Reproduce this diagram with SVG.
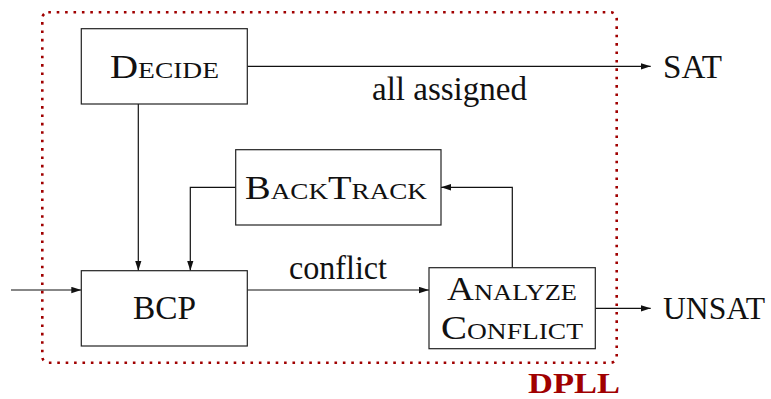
<svg xmlns="http://www.w3.org/2000/svg" width="771" height="399" viewBox="0 0 771 399">
  <defs>
    <marker id="arrow" markerUnits="userSpaceOnUse" markerWidth="11" markerHeight="8" refX="10" refY="3.2" orient="auto">
      <path d="M0,0 L10,3.2 L0,6.4 Z" fill="#111"/>
    </marker>
    <style>
      .box { fill: #fff; stroke: #222; stroke-width: 1.2; }
      .edge { fill: none; stroke: #111; stroke-width: 1.2; }
      text { font-family: "Liberation Serif", "Times New Roman", serif; }
      .lbl { fill: #111; text-anchor: middle; }
      .big { font-size: 34px; }
      .sc { font-size: 24px; }
      .txt { font-size: 33px; }
      .frame { fill: none; stroke: #a00000; stroke-width: 2.6; stroke-dasharray: 2.6 5.8; }
      .title { font-weight: bold; font-size: 30px; fill: #a00000; text-anchor: middle; }
    </style>
  </defs>

  <!-- DPLL frame -->
  <g id="frame">
    <rect class="frame" x="42.3" y="12.3" width="574.4" height="350.4" rx="6" ry="6"/>
    <text class="title" x="574" y="393" textLength="92" lengthAdjust="spacingAndGlyphs">DPLL</text>
  </g>

  <!-- connectors -->
  <g id="connectors">
    <path class="edge" d="M247.3,66.3 H650.7" marker-end="url(#arrow)"/>
    <path class="edge" d="M138.3,104 V270.7" marker-end="url(#arrow)"/>
    <path class="edge" d="M235.7,187.3 H190.3 V270.7" marker-end="url(#arrow)"/>
    <path class="edge" d="M11,290 H81.3" marker-end="url(#arrow)"/>
    <path class="edge" d="M247.3,290 H429" marker-end="url(#arrow)"/>
    <path class="edge" d="M512.3,267.7 V187.3 H441" marker-end="url(#arrow)"/>
    <path class="edge" d="M595.3,308.3 H650.7" marker-end="url(#arrow)"/>
    <text class="lbl txt" x="449.5" y="100" textLength="155" lengthAdjust="spacingAndGlyphs">all assigned</text>
    <text class="lbl txt" x="338" y="279" textLength="98" lengthAdjust="spacingAndGlyphs">conflict</text>
  </g>

  <g id="decide">
    <rect class="box" x="81.3" y="28.7" width="166" height="75.3"/>
    <text class="lbl" x="164.5" y="78" textLength="109" lengthAdjust="spacingAndGlyphs"><tspan class="big">D</tspan><tspan class="sc">ECIDE</tspan></text>
  </g>

  <g id="backtrack">
    <rect class="box" x="235.7" y="149.7" width="205.3" height="75.3"/>
    <text class="lbl" x="336" y="199" textLength="182" lengthAdjust="spacingAndGlyphs"><tspan class="big">B</tspan><tspan class="sc">ACK</tspan><tspan class="big">T</tspan><tspan class="sc">RACK</tspan></text>
  </g>

  <g id="bcp">
    <rect class="box" x="81.3" y="270.7" width="166" height="75.3"/>
    <text class="lbl big" x="164.5" y="319" textLength="63" lengthAdjust="spacingAndGlyphs">BCP</text>
  </g>

  <g id="analyze">
    <rect class="box" x="429" y="267.7" width="166.3" height="81"/>
    <text class="lbl" x="512" y="300" textLength="130" lengthAdjust="spacingAndGlyphs"><tspan class="big">A</tspan><tspan class="sc">NALYZE</tspan></text>
    <text class="lbl" x="512" y="338.5" textLength="142" lengthAdjust="spacingAndGlyphs"><tspan class="big">C</tspan><tspan class="sc">ONFLICT</tspan></text>
  </g>

  <g id="sat">
    <text class="lbl big" x="692.5" y="77.7" textLength="59" lengthAdjust="spacingAndGlyphs">SAT</text>
  </g>

  <g id="unsat">
    <text class="lbl" x="714" y="319.3" font-size="32" textLength="102" lengthAdjust="spacingAndGlyphs">UNSAT</text>
  </g>
</svg>
